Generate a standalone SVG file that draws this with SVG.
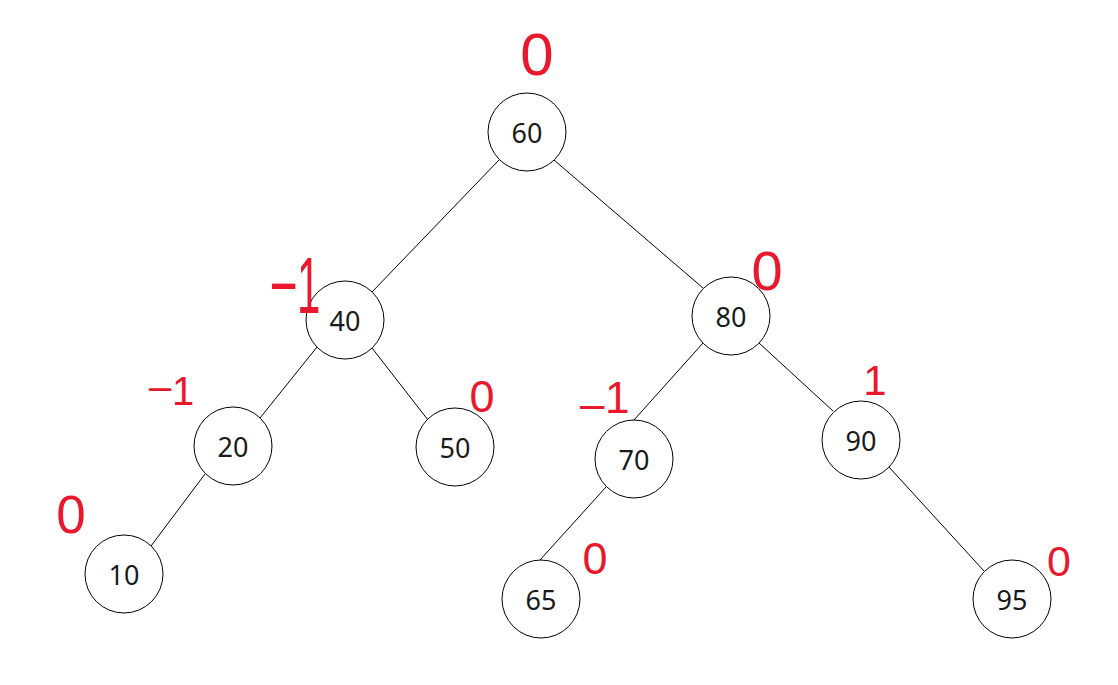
<svg xmlns="http://www.w3.org/2000/svg" width="1118" height="685" viewBox="0 0 1118 685">
<style>
.n{fill:#fff;stroke:#000;stroke-width:1}
.t{font-family:"Noto Sans","Liberation Sans",sans-serif;font-size:27px;fill:#1a1a1a;text-anchor:middle;dominant-baseline:central}
.e{stroke:#000;stroke-width:1}
.r{font-family:"Liberation Sans",sans-serif;fill:#e8192c;text-anchor:middle}
.s{text-anchor:start}
</style>
<rect width="1118" height="685" fill="#fff"/>
<g id="edges">
<line class="e" x1="499" y1="160" x2="372" y2="292"/>
<line class="e" x1="554" y1="160" x2="703" y2="288"/>
<line class="e" x1="317" y1="347" x2="260" y2="418"/>
<line class="e" x1="372" y1="348" x2="428" y2="420"/>
<line class="e" x1="205" y1="474" x2="151" y2="546"/>
<line class="e" x1="703" y1="343" x2="634" y2="420"/>
<line class="e" x1="759" y1="343" x2="833" y2="411"/>
<line class="e" x1="606" y1="487" x2="540" y2="560"/>
<line class="e" x1="889" y1="467" x2="984" y2="571"/>
</g>
<g id="n60"><circle class="n" cx="527" cy="132" r="39"/><text class="t" x="527" y="132">60</text></g>
<g id="n40"><circle class="n" cx="345" cy="320" r="39"/><text class="t" x="345" y="320">40</text></g>
<g id="n80"><circle class="n" cx="731" cy="316" r="39"/><text class="t" x="731" y="316">80</text></g>
<g id="n20"><circle class="n" cx="233" cy="446" r="39"/><text class="t" x="233" y="446">20</text></g>
<g id="n50"><circle class="n" cx="455" cy="447" r="39"/><text class="t" x="455" y="447">50</text></g>
<g id="n70"><circle class="n" cx="634" cy="459" r="39"/><text class="t" x="634" y="459">70</text></g>
<g id="n90"><circle class="n" cx="861" cy="440" r="39"/><text class="t" x="861" y="440">90</text></g>
<g id="n10"><circle class="n" cx="124" cy="574" r="39"/><text class="t" x="124" y="574">10</text></g>
<g id="n65"><circle class="n" cx="541" cy="599" r="39"/><text class="t" x="541" y="599">65</text></g>
<g id="n95"><circle class="n" cx="1012" cy="599" r="39"/><text class="t" x="1012" y="599">95</text></g>
<g id="balance">
<text class="r" x="537" y="75" font-size="60">0</text>
<text class="r s" transform="translate(272,307) scale(1,1.9)" font-size="42">–<tspan x="25" dy="3.2">1</tspan></text>
<text class="r" x="767" y="290" font-size="56">0</text>
<text class="r s" x="149" y="400" font-size="40">–<tspan x="172" dy="5">1</tspan></text>
<text class="r" x="482" y="412" font-size="45">0</text>
<text class="r s" x="580" y="419" font-size="44">–<tspan x="605" dy="-6">1</tspan></text>
<text class="r" x="875" y="395" font-size="42">1</text>
<text class="r" x="71" y="533" font-size="53">0</text>
<text class="r" x="595" y="574" font-size="45">0</text>
<text class="r" x="1059" y="576" font-size="43">0</text>
</g>
</svg>
